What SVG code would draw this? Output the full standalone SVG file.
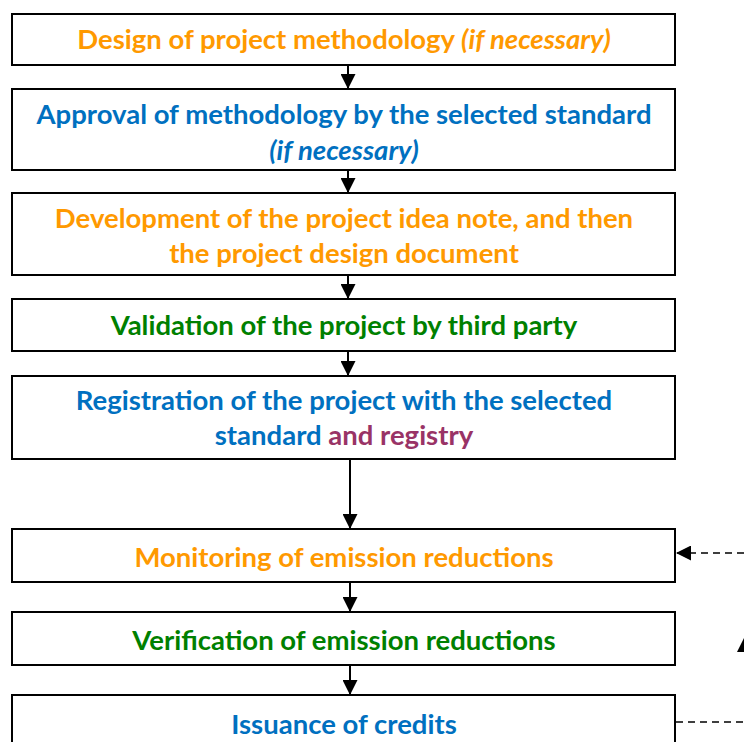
<svg xmlns="http://www.w3.org/2000/svg" width="744" height="742" viewBox="0 0 744 742">
<defs>
<marker id="ah" markerWidth="15" markerHeight="15" refX="15" refY="7.5" orient="auto" markerUnits="userSpaceOnUse"><path d="M0,0 L15,7.5 L0,15 Z" fill="#000"/></marker>
<style>
.box{fill:#fff;stroke:#000;stroke-width:2}
.t{font-family:Lato,"Open Sans",sans-serif;font-weight:bold;font-size:27.5px;text-anchor:middle}
.o{fill:#FF9900}.b{fill:#0070C0}.g{fill:#008000}.p{fill:#993366}
.c{stroke:#000;stroke-width:2;fill:none}
.d{stroke:#000;stroke-width:1.5;fill:none;stroke-dasharray:7 5}
</style>
</defs>
<g id="connectors">
<line class="c" x1="348" y1="65" x2="348" y2="89" marker-end="url(#ah)"/>
<line class="c" x1="348" y1="170" x2="348" y2="193" marker-end="url(#ah)"/>
<line class="c" x1="348" y1="275" x2="348" y2="299" marker-end="url(#ah)"/>
<line class="c" x1="348" y1="351" x2="348" y2="376" marker-end="url(#ah)"/>
<line class="c" x1="350" y1="459" x2="350" y2="529" marker-end="url(#ah)"/>
<line class="c" x1="350" y1="582" x2="350" y2="612" marker-end="url(#ah)"/>
<line class="c" x1="350" y1="665" x2="350" y2="695" marker-end="url(#ah)"/>
<line class="d" x1="744" y1="553" x2="676" y2="553" marker-end="url(#ah)"/>
<line class="d" x1="676" y1="722" x2="744" y2="722"/>
<path d="M737,652 L744,638 L744,652 Z" fill="#000"/>
</g>
<g id="n1"><rect class="box" x="12" y="14" width="663" height="51"/>
<text class="t o" x="344" y="49">Design of project methodology <tspan font-style="italic">(if necessary)</tspan></text></g>
<g id="n2"><rect class="box" x="12" y="89" width="663" height="81"/>
<text class="t b" x="344" y="124">Approval of methodology by the selected standard</text>
<text class="t b" x="344" y="160" font-style="italic">(if necessary)</text></g>
<g id="n3"><rect class="box" x="12" y="193" width="663" height="82"/>
<text class="t o" x="344" y="228">Development of the project idea note, and then</text>
<text class="t o" x="344" y="263">the project design document</text></g>
<g id="n4"><rect class="box" x="12" y="299" width="663" height="52"/>
<text class="t g" x="344" y="335">Validation of the project by third party</text></g>
<g id="n5"><rect class="box" x="12" y="376" width="663" height="83"/>
<text class="t b" x="344" y="410">Registration of the project with the selected</text>
<text class="t" x="344" y="445"><tspan class="b">standard </tspan><tspan class="p">and registry</tspan></text></g>
<g id="n6"><rect class="box" x="12" y="529" width="663" height="53"/>
<text class="t o" x="344" y="567">Monitoring of emission reductions</text></g>
<g id="n7"><rect class="box" x="12" y="612" width="663" height="53"/>
<text class="t g" x="344" y="650">Verification of emission reductions</text></g>
<g id="n8"><rect class="box" x="12" y="695" width="663" height="60"/>
<text class="t b" x="344" y="734">Issuance of credits</text></g>
</svg>
